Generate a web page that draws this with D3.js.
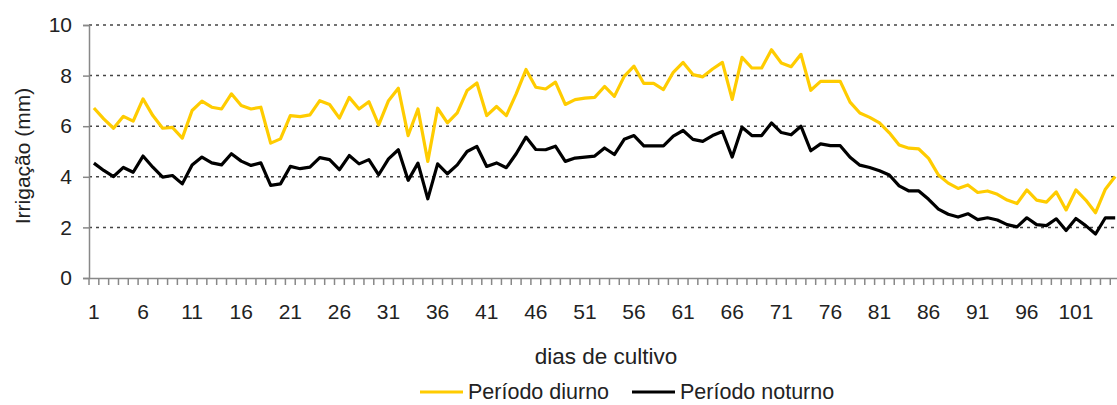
<!DOCTYPE html>
<html><head><meta charset="utf-8">
<script src="https://cdn.jsdelivr.net/npm/d3@7"></script>
<style>
html,body{margin:0;padding:0;background:#fff;overflow:hidden}
text{font-family:"Liberation Sans",Arial,sans-serif;fill:#222}
</style></head>
<body><svg id="c" width="1117" height="405"></svg>
<script>
const days = d3.range(1, 106);
const diurno = [6.72,6.29,5.92,6.39,6.2,7.08,6.42,5.92,5.95,5.53,6.62,6.99,6.75,6.68,7.28,6.82,6.68,6.75,
5.33,5.5,6.42,6.38,6.45,7.01,6.86,6.32,7.14,6.68,6.97,6.05,7.01,7.5,5.63,6.68,4.61,
6.71,6.13,6.53,7.41,7.71,6.42,6.78,6.42,7.28,8.24,7.54,7.47,7.74,6.86,7.05,7.11,7.14,7.57,
7.18,7.97,8.37,7.69,7.69,7.45,8.13,8.52,8.04,7.95,8.26,8.52,7.06,8.72,8.3,8.3,9.02,
8.5,8.35,8.84,7.42,7.77,7.77,7.77,6.95,6.52,6.35,6.13,5.74,5.26,5.13,5.1,4.73,4.07,3.75,
3.54,3.68,3.38,3.44,3.31,3.08,2.94,3.48,3.08,3.0,3.4,2.69,3.48,3.08,2.58,3.51,4.01];
const noturno = [4.54,4.25,4.01,4.37,4.18,4.82,4.38,3.99,4.05,3.72,4.47,4.78,4.55,4.47,4.91,4.62,4.45,4.55,
3.66,3.72,4.41,4.32,4.38,4.76,4.68,4.28,4.84,4.51,4.68,4.08,4.71,5.07,3.86,4.54,3.13,
4.51,4.12,4.47,5.0,5.2,4.41,4.55,4.36,4.91,5.57,5.08,5.07,5.21,4.61,4.74,4.78,4.82,5.14,
4.88,5.48,5.63,5.22,5.22,5.22,5.61,5.83,5.48,5.4,5.63,5.79,4.78,5.96,5.63,5.63,6.13,
5.75,5.66,6.0,5.03,5.3,5.23,5.23,4.77,4.46,4.37,4.24,4.07,3.64,3.44,3.44,3.11,2.72,2.52,
2.41,2.54,2.31,2.38,2.29,2.11,2.02,2.38,2.11,2.07,2.34,1.88,2.35,2.07,1.74,2.38,2.38];
const yTicks = [0,2,4,6,8,10];
const xLabels = d3.range(1, 106, 5);
const seriesNames = ["Período diurno","Período noturno"];
const seriesColors = ["#FFCC00","#000000"];

const svg = d3.select("#c");
const L = 89, T = 25, B = 278, bw = 9.82;
const x = d3.scaleBand().domain(days).range([L, L + bw * days.length]).padding(0);
const y = d3.scaleLinear().domain([0, 10]).range([B, T]);

// gridlines
svg.append("g").selectAll("line").data(yTicks.filter(d => d > 0)).join("line")
  .attr("x1", L).attr("x2", 1117).attr("y1", d => y(d)).attr("y2", d => y(d))
  .attr("stroke", "#444").attr("stroke-width", 1.5).attr("stroke-dasharray", "3,4");

// y axis
const ya = svg.append("g").attr("transform", `translate(${L},0)`)
  .call(d3.axisLeft(y).tickValues(yTicks).tickSize(6).tickPadding(11).tickFormat(d3.format("d")));
ya.select(".domain").attr("stroke", "#888").attr("stroke-width", 1.5);
ya.selectAll(".tick line").attr("stroke", "#888").attr("stroke-width", 1.5);
ya.selectAll("text").style("font-size", "21px").attr("fill", "#222");

// x axis
const xa = svg.append("g").attr("transform", `translate(0,${B})`)
  .call(d3.axisBottom(x).tickValues(xLabels).tickSize(0).tickPadding(26));
xa.select(".domain").attr("stroke", "#888").attr("stroke-width", 1.5);
xa.selectAll("text").style("font-size", "21px").attr("fill", "#222");
svg.append("g").selectAll("line").data(days).join("line")
  .attr("x1", d => x(d)).attr("x2", d => x(d)).attr("y1", B).attr("y2", B + 7)
  .attr("stroke", "#888").attr("stroke-width", 1.5);

// lines
const line = d3.line().x((d, i) => x(days[i]) + x.bandwidth() / 2).y(d => y(d));
[diurno, noturno].forEach((s, k) => {
  svg.append("path").datum(s).attr("d", line).attr("fill", "none")
    .attr("stroke", seriesColors[k]).attr("stroke-width", 3.2).attr("stroke-linejoin", "round");
});

// titles
svg.append("text").attr("x", 606).attr("y", 364).attr("text-anchor", "middle")
  .style("font-size", "22.5px").text("dias de cultivo");
svg.append("text").attr("transform", "translate(30,156) rotate(-90)").attr("text-anchor", "middle")
  .style("font-size", "21px").text("Irrigação (mm)");

// legend
const lx = [420, 632];
seriesNames.forEach((n, k) => {
  svg.append("line").attr("x1", lx[k]).attr("x2", lx[k] + 43).attr("y1", 392).attr("y2", 392)
    .attr("stroke", seriesColors[k]).attr("stroke-width", 3);
  svg.append("text").attr("x", lx[k] + 48).attr("y", 399).style("font-size", "21.5px").text(n);
});
</script></body></html>
